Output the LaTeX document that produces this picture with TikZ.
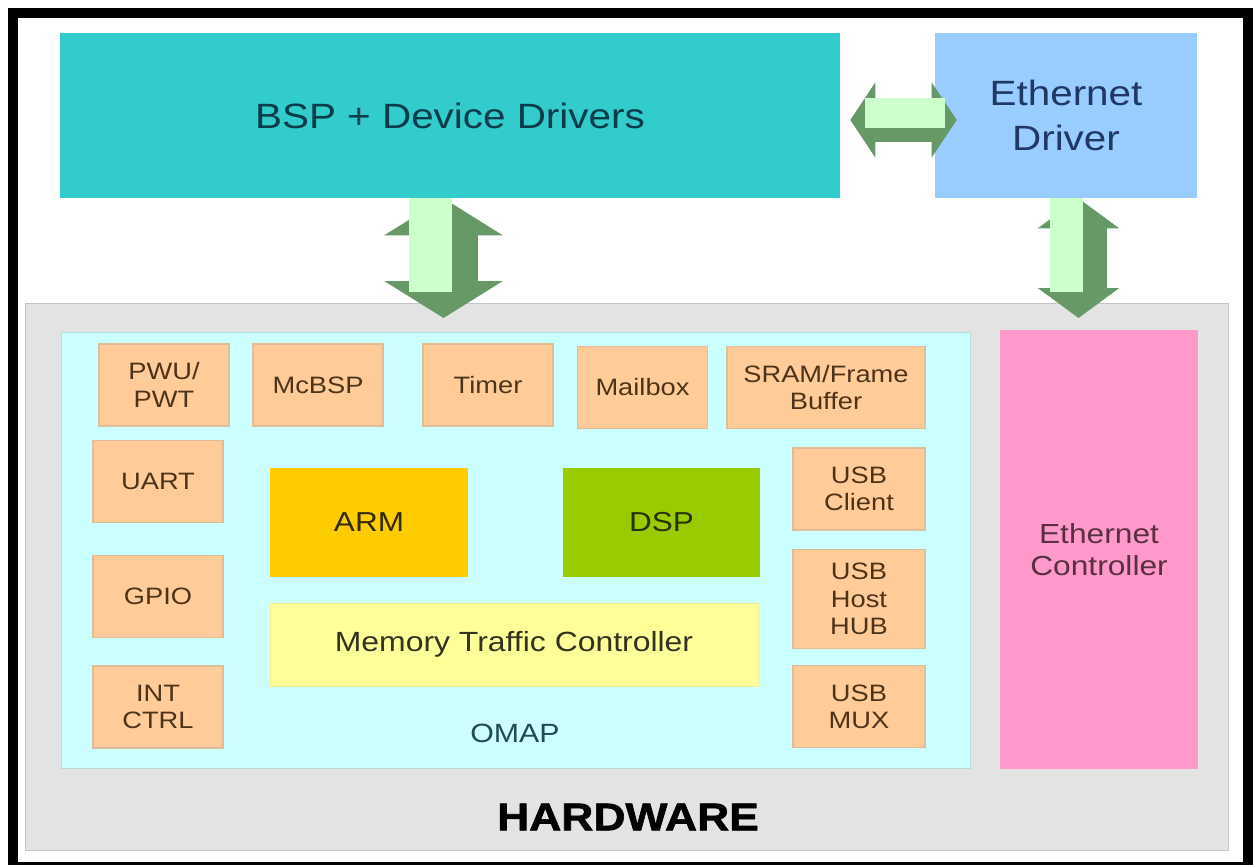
\documentclass[tikz,border=0pt]{standalone}
\usepackage{fontspec}
\setmainfont{Liberation Sans}[FakeStretch=1.15, BoldFeatures={FakeBold=1.6}]
\usepackage{tikz}
\usetikzlibrary{arrows.meta}

\definecolor{bspteal}{HTML}{33CCCC}
\definecolor{bsptext}{HTML}{0A3C4A}
\definecolor{ethblue}{HTML}{99CCFF}
\definecolor{ethtext}{HTML}{1F3864}
\definecolor{hwgray}{HTML}{E3E3E3}
\definecolor{hwedge}{HTML}{C4C4C4}
\definecolor{omapcyan}{HTML}{CCFFFF}
\definecolor{omapedge}{HTML}{B8DCDC}
\definecolor{omaptext}{HTML}{1D4D5A}
\definecolor{ethpink}{HTML}{FF99CC}
\definecolor{pinktext}{HTML}{5A3040}
\definecolor{peach}{HTML}{FFCC99}
\definecolor{peachedge}{HTML}{E0BC98}
\definecolor{chiptext}{HTML}{4D3319}
\definecolor{armgold}{HTML}{FFCC00}
\definecolor{dspgreen}{HTML}{99CC00}
\definecolor{mtcyellow}{HTML}{FFFF99}
\definecolor{arrowlight}{HTML}{CCFFCC}
\definecolor{arrowdark}{HTML}{669966}

\tikzset{
	box/.style={rectangle, inner sep=0pt, align=center},
	swbox/.style={box, minimum height=3.3cm, font=\fontsize{20}{25.5}\selectfont},
	chip/.style={box, fill=peach, draw=peachedge, line width=0.8pt, minimum width=2.6cm, minimum height=1.64cm, text=chiptext, font=\fontsize{13.5}{15.5}\selectfont},
	core/.style={box, minimum width=3.95cm, minimum height=2.18cm, font=\fontsize{15.6}{18}\selectfont},
	fatarrow/.style n args={3}{draw=arrowdark, line width=#1, arrows={Triangle[width=#2,length=#3]-Triangle[width=#2,length=#3]}},
	fatface/.style={draw=arrowlight, line width=#1}
}

\begin{document}
\begin{tikzpicture}[x=0.02cm,y=-0.02cm]
	\useasboundingbox (0,0) rectangle (1253,865);
	%frame
	\fill[black] (8,8) rectangle (1253,865);
	\fill[white] (18,18) rectangle (1243,862);

	%software boxes
	\node[swbox,fill=bspteal,text=bsptext,minimum width=15.6cm] (bsp) at (450,115.5) {BSP + Device Drivers};
	\node[swbox,fill=ethblue,text=ethtext,minimum width=5.24cm] (ethdrv) at (1066,115.5) {Ethernet\\Driver};

	%hardware boxes
	\node[box,fill=hwgray,draw=hwedge,minimum width=24.06cm,minimum height=10.94cm] (hw) at (626.5,576.5) {};
	\node[box,fill=omapcyan,draw=omapedge,minimum width=18.18cm,minimum height=8.72cm] (omap) at (515.5,550) {};
	\node[box,fill=ethpink,text=pinktext,minimum width=3.96cm,minimum height=8.78cm,font=\fontsize{15.7}{18.5}\selectfont] (ethctl) at (1099,549.5) {Ethernet\\Controller};
	%
	\node[chip] (pwu)   at (164,385) {PWU/\\PWT};
	\node[chip] (mcbsp) at (318,385) {McBSP};
	\node[chip] (timer) at (488,385) {Timer};
	\node[chip] (mbox)  at (642.5,387.5) {Mailbox};
	\node[chip,minimum width=3.96cm] (sram) at (826,387.5) {SRAM/Frame\\Buffer};
	%
	\node[chip] (uart) at (158,481.5) {UART};
	\node[chip] (gpio) at (158,596.5) {GPIO};
	\node[chip] (intc) at (158,707)   {INT\\CTRL};
	%
	\node[chip,minimum width=2.64cm] (usbc) at (859,489) {USB\\Client};
	\node[chip,minimum width=2.64cm,minimum height=1.98cm] (usbh) at (859,599) {USB\\Host\\HUB};
	\node[chip,minimum width=2.64cm] (usbm) at (859,706.5) {USB\\MUX};
	%
	\node[core,fill=armgold,text=black!80!armgold] (arm) at (369,522.5) {ARM};
	\node[core,fill=dspgreen,text=black!75!dspgreen] (dsp) at (661.5,522.5) {DSP};
	\node[box,fill=mtcyellow,draw=mtcyellow!80!black!30!mtcyellow,text=black!80!mtcyellow,minimum width=9.76cm,minimum height=1.66cm,font=\fontsize{15.8}{18}\selectfont] (mtc) at (514,644.5) {Memory Traffic Controller};

	%labels
	\node[text=omaptext,font=\fontsize{15}{18}\selectfont] (omaplbl) at (515,733) {OMAP};
	\node[font=\fontsize{22}{26}\selectfont\bfseries] (hwlbl) at (628,817) {HARDWARE};

	%arrows
	\coordinate (dend)  at (443.5,318);
	\coordinate (dface) at (430.5,292);
	\draw[fatarrow={1.38cm}{2.34cm}{0.74cm}] (bsp.south -| dend) -- (dend);
	\draw[fatface=0.86cm] (bsp.south -| dface) -- (dface);
	%
	\coordinate (eend)  at (1078.5,318);
	\coordinate (eface) at (1066.5,292);
	\draw[fatarrow={1.14cm}{1.6cm}{0.6cm}] (ethdrv.south -| eend) -- (eend);
	\draw[fatface=0.66cm] (ethdrv.south -| eface) -- (eface);
	%
	\draw[fatarrow={0.88cm}{1.48cm}{0.5cm}] ([shift={(0.2cm,-0.09cm)}]bsp.east) -- ([shift={(0.44cm,-0.09cm)}]ethdrv.west);
	\draw[fatface=0.6cm] ([shift={(0.5cm,0.05cm)}]bsp.east) -- ([shift={(0.2cm,0.05cm)}]ethdrv.west);
\end{tikzpicture}
\end{document}
